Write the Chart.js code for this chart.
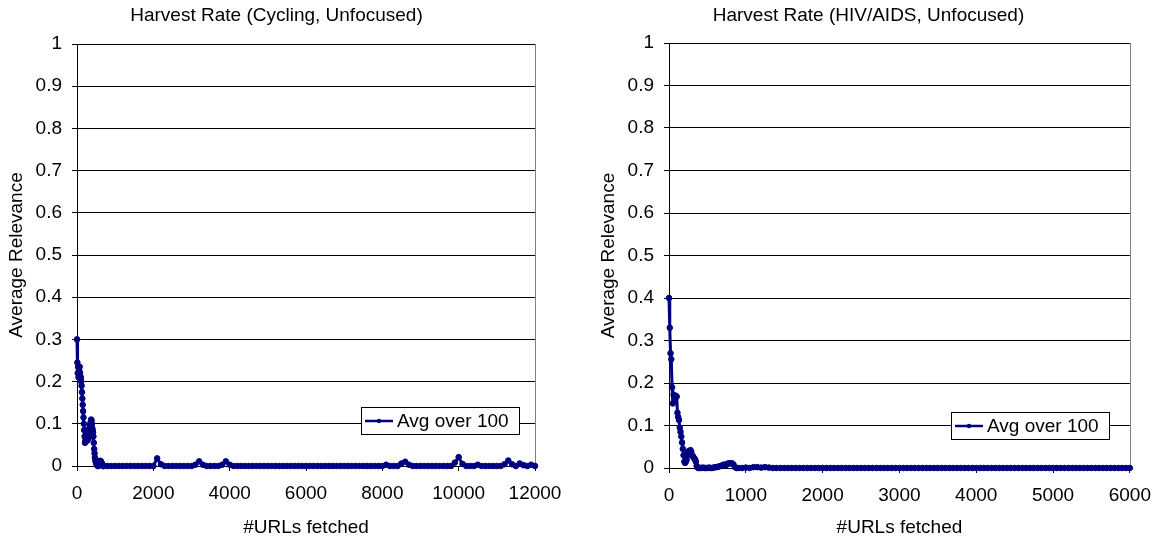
<!DOCTYPE html>
<html>
<head>
<meta charset="utf-8">
<script src="https://cdn.jsdelivr.net/npm/chart.js@4.4.1/dist/chart.umd.min.js"></script>
<style>
  html, body { margin: 0; padding: 0; background: #ffffff; }
  .wrap { position: absolute; top: 0; }
</style>
</head>
<body>
<div class="wrap" style="left:0px;width:590px;height:539px;"><canvas id="c1" width="590" height="539"></canvas></div>
<div class="wrap" style="left:592px;width:570px;height:539px;"><canvas id="c2" width="570" height="539"></canvas></div>
<script>
// ---------- DATA ----------
const seriesLabel = 'Avg over 100';
const xAxisTitle = '#URLs fetched';
const yAxisTitle = 'Average Relevance';
const title1 = 'Harvest Rate (Cycling, Unfocused)';
const title2 = 'Harvest Rate (HIV/AIDS, Unfocused)';

const yTickLabels = ['0','0.1','0.2','0.3','0.4','0.5','0.6','0.7','0.8','0.9','1'];
const xTickLabels1 = ['0','2000','4000','6000','8000','10000','12000'];
const xTickLabels2 = ['0','1000','2000','3000','4000','5000','6000'];

// Cycling: URLs fetched
const cyclingX = [
  0,10,20,30,40,50,60,70,80,90,100,110,120,130,140,150,160,170,180,190,
  200,210,220,230,240,250,260,270,280,290,300,310,320,330,340,350,360,370,380,390,
  400,410,420,430,440,450,460,470,480,490,500,510,520,530,540,550,560,570,580,590,
  600,610,620,630,640,650,660,670,680,690,
  700,800,900,
  1000,1100,1200,1300,1400,1500,1600,1700,1800,1900,
  2000,2100,2200,2300,2400,2500,2600,2700,2800,2900,
  3000,3100,3200,3300,3400,3500,3600,3700,3800,3900,
  4000,4100,4200,4300,4400,4500,4600,4700,4800,4900,
  5000,5100,5200,5300,5400,5500,5600,5700,5800,5900,
  6000,6100,6200,6300,6400,6500,6600,6700,6800,6900,
  7000,7100,7200,7300,7400,7500,7600,7700,7800,7900,
  8000,8100,8200,8300,8400,8500,8600,8700,8800,8900,
  9000,9100,9200,9300,9400,9500,9600,9700,9800,9900,
  10000,10100,10200,10300,10400,10500,10600,10700,10800,10900,
  11000,11100,11200,11300,11400,11500,11600,11700,11800,11900,
  12000
];
// Cycling: average relevance
const cyclingY = [
  0.30,0.245,0.22,0.235,0.21,0.23,0.225,0.235,0.22,0.205,0.21,0.20,0.19,0.175,0.16,0.145,0.13,0.115,0.10,0.085,
  0.07,0.055,0.06,0.075,0.085,0.08,0.065,0.06,0.07,0.075,0.065,0.07,0.08,0.09,0.095,0.10,0.105,0.11,0.108,0.10,
  0.09,0.085,0.08,0.07,0.055,0.04,0.03,0.02,0.015,0.01,0.008,0.005,0.003,0.002,0,0.002,0,0.003,0.006,0.01,
  0.012,0.01,0.012,0.01,0.008,0.006,0.004,0.002,0,0,
  0,0,0,
  0,0,0,0,0,0,0,0,0,0,
  0,0.018,0.004,0,0,0,0,0,0,0,
  0,0.003,0.011,0.003,0,0,0,0,0.003,0.011,
  0.003,0,0,0,0,0,0,0,0,0,
  0,0,0,0,0,0,0,0,0,0,
  0,0,0,0,0,0,0,0,0,0,
  0,0,0,0,0,0,0,0,0,0,
  0,0.003,0,0,0,0.006,0.01,0.003,0,0,
  0,0,0,0,0,0,0,0,0,0.008,
  0.021,0.005,0,0,0,0.003,0,0,0,0,
  0,0,0.004,0.013,0.004,0,0.006,0.002,0,0.003,
  0
];

// HIV/AIDS: URLs fetched
const hivX = [
  0,10,20,30,40,50,60,70,80,90,100,110,120,130,140,150,160,170,180,190,
  200,210,220,230,240,250,260,270,280,290,300,310,320,330,340,350,360,370,
  380,400,420,440,460,480,500,520,540,560,580,600,620,640,660,680,700,720,740,760,780,800,820,840,860,880,900,
  950,1000,1050,1100,1150,1200,1250,1300,1350,1400,1450,1500,1550,1600,1650,1700,1750,1800,1850,1900,1950,
  2000,2050,2100,2150,2200,2250,2300,2350,2400,2450,2500,2550,2600,2650,2700,2750,2800,2850,2900,2950,
  3000,3050,3100,3150,3200,3250,3300,3350,3400,3450,3500,3550,3600,3650,3700,3750,3800,3850,3900,3950,
  4000,4050,4100,4150,4200,4250,4300,4350,4400,4450,4500,4550,4600,4650,4700,4750,4800,4850,4900,4950,
  5000,5050,5100,5150,5200,5250,5300,5350,5400,5450,5500,5550,5600,5650,5700,5750,5800,5850,5900,5950,
  6000
];
// HIV/AIDS: average relevance
const hivY = [
  0.40,0.33,0.27,0.256,0.19,0.152,0.172,0.165,0.162,0.17,0.168,0.13,0.12,0.113,0.095,0.085,0.074,0.06,0.045,0.03,
  0.015,0.012,0.015,0.02,0.03,0.038,0.04,0.04,0.042,0.038,0.03,0.028,0.025,0.022,0.02,0.015,0.005,0.002,
  0,0,0,0.001,0,0,0,0.001,0,0,0.001,0.002,0.002,0.003,0.004,0.005,0.007,0.008,0.006,0.01,0.011,0.011,0.011,0.008,0.002,0,0,
  0,0.001,0,0.002,0.002,0.001,0.002,0.001,0,0,0,0,0,0,0,0,0,0,0,0,0,
  0,0,0,0,0,0,0,0,0,0,0,0,0,0,0,0,0,0,0,0,
  0,0,0,0,0,0,0,0,0,0,0,0,0,0,0,0,0,0,0,0,
  0,0,0,0,0,0,0,0,0,0,0,0,0,0,0,0,0,0,0,0,
  0,0,0,0,0,0,0,0,0,0,0,0,0,0,0,0,0,0,0,0,
  0
];

// ---------- STYLE / PLUGINS ----------
const FONT = '"Liberation Sans", Arial, Helvetica, sans-serif';
const SERIES_COLOR = '#000080';
Chart.defaults.font.family = FONT;
Chart.defaults.font.size = 19;
Chart.defaults.color = '#000000';

const headerPlugin = {
  id: 'headerText',
  afterDraw(chart, args, opts) {
    const ctx = chart.ctx;
    ctx.save();
    ctx.font = '19px ' + FONT;
    ctx.fillStyle = '#000';
    ctx.textAlign = 'center';
    ctx.textBaseline = 'middle';
    ctx.fillText(opts.text, opts.x, opts.y);
    ctx.restore();
  }
};

const frameAndLegendPlugin = {
  id: 'frameLegend',
  beforeDatasetsDraw(chart) {
    const a = chart.chartArea, ctx = chart.ctx;
    ctx.save();
    ctx.strokeStyle = '#808080';
    ctx.lineWidth = 1;
    ctx.beginPath();
    ctx.moveTo(Math.round(a.right) + 0.5, a.top);
    ctx.lineTo(Math.round(a.right) + 0.5, a.bottom);
    ctx.stroke();
    ctx.restore();
  },
  afterDraw(chart, args, opts) {
    const ctx = chart.ctx;
    const ds = chart.data.datasets[0];
    const b = opts.box;
    ctx.save();
    ctx.fillStyle = '#ffffff';
    ctx.fillRect(b.x, b.y, b.w, b.h);
    ctx.strokeStyle = '#000000';
    ctx.lineWidth = 1;
    ctx.strokeRect(b.x + 0.5, b.y + 0.5, b.w, b.h);
    const cy = b.y + b.h / 2 + 0.5;
    ctx.strokeStyle = ds.borderColor;
    ctx.lineWidth = 2.5;
    ctx.beginPath();
    ctx.moveTo(b.x + 4, cy);
    ctx.lineTo(b.x + 32, cy);
    ctx.stroke();
    ctx.fillStyle = ds.borderColor;
    ctx.beginPath();
    ctx.arc(b.x + 18, cy, 2.2, 0, Math.PI * 2);
    ctx.fill();
    ctx.fillStyle = '#000';
    ctx.font = '19px ' + FONT;
    ctx.textAlign = 'left';
    ctx.textBaseline = 'middle';
    ctx.fillText(ds.label, b.x + 36, cy + 1);
    ctx.restore();
  }
};

function makeChart(id, xs, ys, xMax, xStep, xLabels, cfg) {
  const points = xs.map((x, i) => ({ x: x, y: ys[i] }));
  return new Chart(document.getElementById(id), {
    type: 'line',
    data: {
      datasets: [{
        label: seriesLabel,
        data: points,
        borderColor: SERIES_COLOR,
        backgroundColor: SERIES_COLOR,
        borderWidth: 3,
        borderJoinStyle: 'round',
        borderCapStyle: 'round',
        pointRadius: 2.8,
        pointBorderWidth: 1,
        pointStyle: 'circle',
        tension: 0,
        clip: false
      }]
    },
    options: {
      responsive: false,
      animation: false,
      events: [],
      layout: { padding: { top: cfg.top, right: cfg.right, bottom: 0, left: 0 } },
      plugins: {
        legend: { display: false },
        tooltip: { enabled: false },
        headerText: { text: cfg.title, x: 276.5, y: 16 },
        frameLegend: { box: cfg.legendBox }
      },
      scales: {
        x: {
          type: 'linear',
          min: 0, max: xMax,
          afterFit: s => { s.height = cfg.xHeight; },
          ticks: {
            stepSize: xStep, autoSkip: false, maxRotation: 0, padding: 11,
            color: '#000', font: { size: 19 },
            callback: (v, i) => xLabels[i]
          },
          grid: { display: true, drawOnChartArea: false, drawTicks: true, tickLength: 5, color: '#000' },
          border: { display: true, color: '#000', width: 1 },
          title: { display: true, text: xAxisTitle, color: '#000', font: { size: 19 }, padding: { top: 0, bottom: cfg.xTitlePad } }
        },
        y: {
          min: 0, max: 1,
          afterFit: s => { s.width = 77; },
          ticks: {
            stepSize: 0.1, autoSkip: false, padding: 10,
            color: '#000', font: { size: 19 },
            callback: (v, i) => yTickLabels[i]
          },
          grid: { color: '#000', lineWidth: 1, tickLength: 5, drawTicks: true },
          border: { display: true, color: '#000', width: 1 },
          title: { display: true, text: yAxisTitle, color: '#000', font: { size: 19 }, padding: { top: 5, bottom: 0 } }
        }
      }
    },
    plugins: [headerPlugin, frameAndLegendPlugin]
  });
}

makeChart('c1', cyclingX, cyclingY, 12000, 2000, xTickLabels1, {
  title: title1, top: 44, right: 55, xHeight: 73, xTitlePad: 0,
  legendBox: { x: 361, y: 407, w: 158, h: 27 }
});
makeChart('c2', hivX, hivY, 6000, 1000, xTickLabels2, {
  title: title2, top: 43, right: 25, xHeight: 71, xTitlePad: 0,
  legendBox: { x: 359, y: 412, w: 158, h: 27 }
});
</script>
</body>
</html>
